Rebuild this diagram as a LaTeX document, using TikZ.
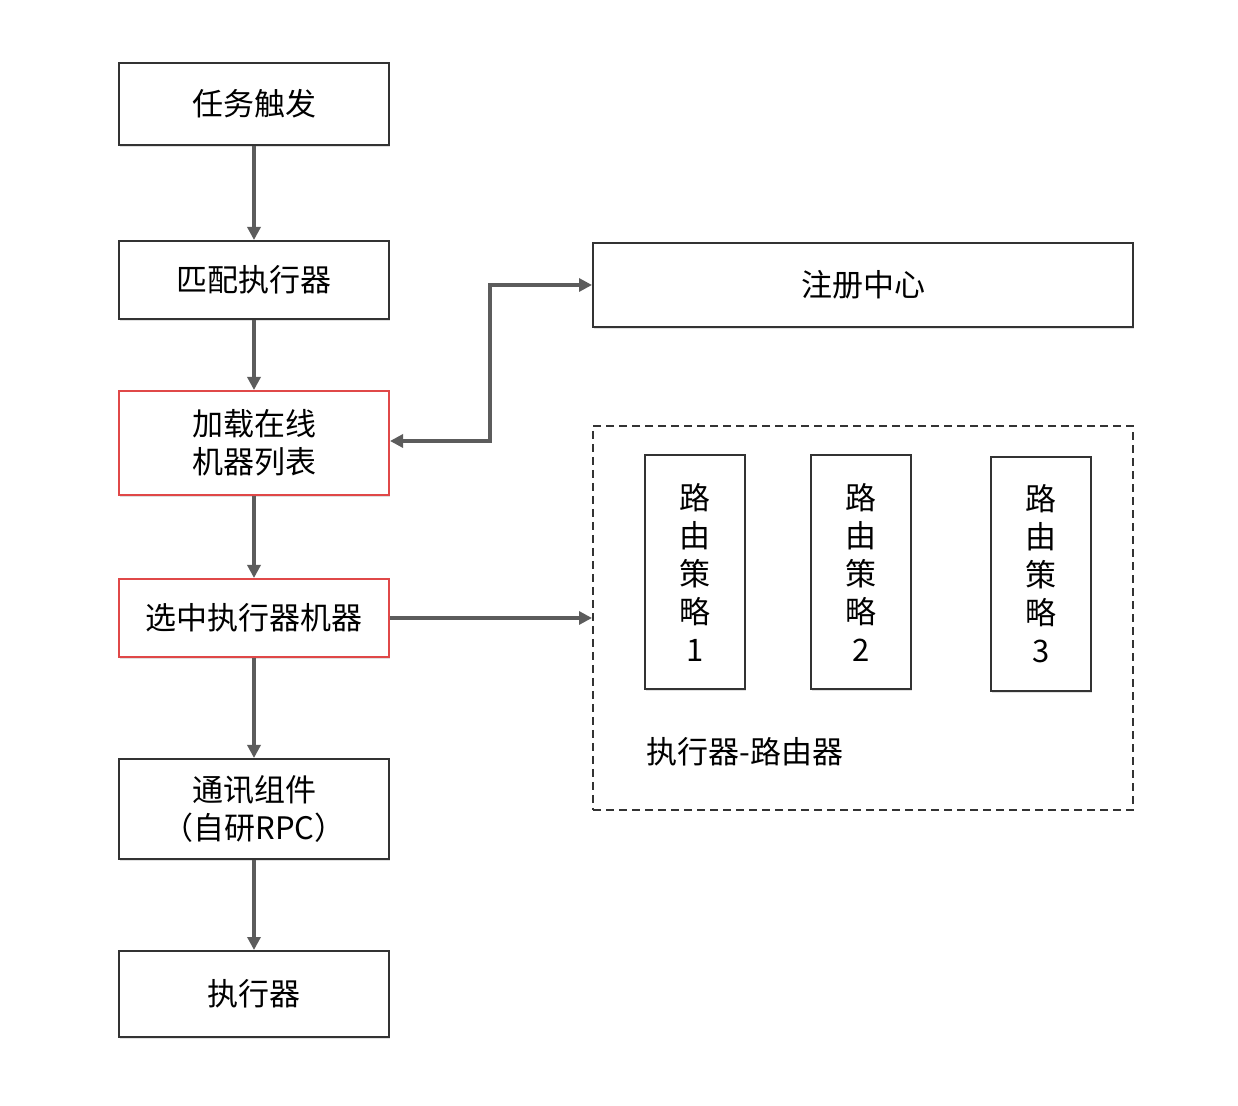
\documentclass[tikz,border=0pt]{standalone}
\usepackage{fontspec}
\setmainfont{Noto Sans CJK SC}
\usetikzlibrary{arrows.meta, positioning, shadows}

\definecolor{trait}{HTML}{333333}
\definecolor{rouge}{HTML}{E04848}
\definecolor{gris}{HTML}{5C5C5C}

\begin{document}
\begin{tikzpicture}[
  x=0.5pt, y=-0.5pt,
  font=\fontsize{15.5pt}{19pt}\selectfont,
  etape/.style={
    draw=trait,
    line width=1pt,
    align=center,
    minimum width=135pt,
    inner sep=2pt,
    fill=white,
    drop shadow={shadow xshift=0.6pt, shadow yshift=-0.8pt, opacity=0.12, fill=black}
  },
  actif/.style={
    etape,
    draw=rouge
  },
  strategie/.style={
    etape,
    minimum width=50pt,
    minimum height=117pt
  },
  groupe/.style={
    draw=trait,
    line width=1pt,
    dash pattern=on 4pt off 2.5pt,
    minimum width=270pt,
    minimum height=192pt
  },
  fleche/.style={
    -{Triangle[length=6.5pt, width=6.5pt]},
    line width=1.6pt,
    draw=gris
  }
]
  \useasboundingbox (0,0) rectangle (1238,1106);

  % Colonne de gauche
  \node[etape, minimum height=41pt] (p1) at (254,104) {任务触发};
  \node[etape, minimum height=39pt, below=47pt of p1] (p2) {匹配执行器};
  \node[actif, minimum height=52pt, below=35pt of p2] (p3) {加载在线\\机器列表};
  \node[actif, minimum height=39pt, below=41pt of p3] (p4) {选中执行器机器};
  \node[etape, minimum height=50pt, below=50pt of p4] (p5) {通讯组件\\（自研RPC）};
  \node[etape, minimum height=43pt, below=45pt of p5] (p6) {执行器};

  % Colonne de droite
  \node[etape, minimum width=270pt, minimum height=42pt] (reg) at (863,285) {注册中心};
  \node[groupe] (grp) at (863,618) {};
  \node[strategie] (s1) at (695,572) {路\\由\\策\\略\\1};
  \node[strategie] (s2) at (861,572) {路\\由\\策\\略\\2};
  \node[strategie] (s3) at (1041,574) {路\\由\\策\\略\\3};
  \node (lbl) at (745,752) {执行器-路由器};

  % Flèches verticales
  \draw[fleche] (p1) -- (p2);
  \draw[fleche] (p2) -- (p3);
  \draw[fleche] (p3) -- (p4);
  \draw[fleche] (p4) -- (p5);
  \draw[fleche] (p5) -- (p6);

  % Liaisons vers la droite
  \coordinate (coude) at (490,441);
  \draw[fleche, {Triangle[length=6.5pt, width=6.5pt]}-{Triangle[length=6.5pt, width=6.5pt]}]
    (p3.east |- coude) -- (coude) |- (reg.west);
  \draw[fleche] (p4.east) -- (p4.east -| grp.west);
\end{tikzpicture}
\end{document}
